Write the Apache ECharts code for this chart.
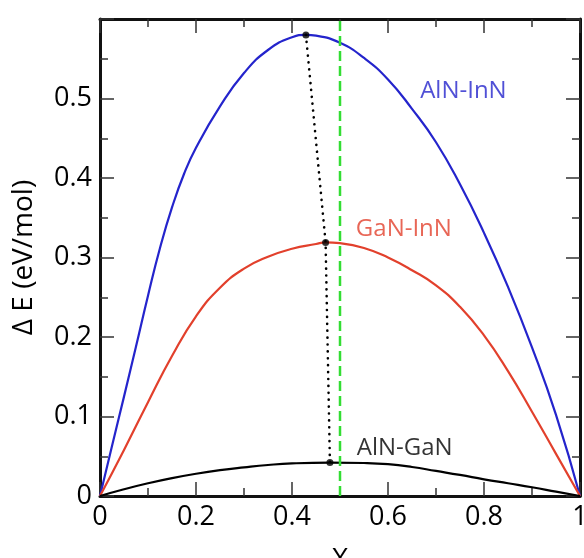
<!DOCTYPE html>
<html>
<head>
<meta charset="utf-8">
<script src="https://cdn.jsdelivr.net/npm/echarts@6/dist/echarts.min.js"></script>
<style>html,body{margin:0;padding:0;background:#fff;overflow:hidden}#c{width:584px;height:558px}</style>
</head>
<body>
<div id="c"></div>
<script>
// Data: [x, ΔE]
var alnInn = [[0,0],[0.025,0.063],[0.05,0.125],[0.075,0.188],[0.1,0.252],[0.125,0.312],[0.15,0.363],[0.175,0.405],[0.2,0.438],[0.25,0.490],[0.3,0.532],[0.35,0.561],[0.4,0.577],[0.429,0.580],[0.45,0.579],[0.5,0.570],[0.55,0.551],[0.6,0.524],[0.65,0.487],[0.7,0.445],[0.75,0.392],[0.8,0.331],[0.85,0.263],[0.9,0.187],[0.95,0.102],[1,0]];
var ganInn = [[0,0],[0.05,0.058],[0.1,0.118],[0.15,0.176],[0.2,0.226],[0.25,0.262],[0.3,0.286],[0.35,0.301],[0.4,0.311],[0.45,0.317],[0.470,0.319],[0.5,0.318],[0.55,0.312],[0.6,0.300],[0.65,0.284],[0.7,0.265],[0.75,0.238],[0.8,0.202],[0.85,0.157],[0.9,0.106],[0.95,0.053],[1,0]];
var alnGan = [[0,0],[0.05,0.0085],[0.1,0.016],[0.15,0.0225],[0.2,0.028],[0.25,0.0325],[0.3,0.036],[0.35,0.039],[0.4,0.041],[0.479,0.042],[0.55,0.0415],[0.6,0.040],[0.65,0.0365],[0.7,0.0315],[0.75,0.0265],[0.8,0.021],[0.85,0.016],[0.9,0.011],[0.95,0.0055],[1,0]];
var peaks = [[0.429,0.580],[0.470,0.319],[0.479,0.042]];
var midLine = [[0.5,0],[0.5,0.6]];
var curveNames = ['AlN-InN','GaN-InN','AlN-GaN'];
var curveLabelPos = [[0.667,0.509],[0.533,0.336],[0.535,0.060]];
var xTicks = [0,0.2,0.4,0.6,0.8,1];
var yTicks = [0,0.1,0.2,0.3,0.4,0.5];

var FONT = 'Open Sans';
var BLUE = '#2424cc', RED = '#e2402c', GREEN = '#33dd33', BLACK = '#000';
var colors = [BLUE, RED, BLACK];

var chart = echarts.init(document.getElementById('c'), null, {renderer:'canvas', width:584, height:558});
var axisCommon = {
  type:'value', min:0,
  axisLine:{show:true, onZero:false, lineStyle:{color:'#111', width:3}},
  axisTick:{show:true, inside:true, length:14, lineStyle:{color:'#333', width:1.5}},
  minorTick:{show:true, splitNumber:2, length:8, lineStyle:{color:'#333', width:1.5}},
  splitLine:{show:false}, minorSplitLine:{show:false}
};
function ax(extra){ return Object.assign({}, JSON.parse(JSON.stringify(axisCommon)), extra); }

chart.setOption({
  animation:false,
  backgroundColor:'#fff',
  grid:{left:100, right:4, top:19, bottom:62, containLabel:false, outerBoundsMode:'none'},
  xAxis:[
    ax({position:'bottom', max:1, interval:0.2,
        name:'X', nameLocation:'middle', nameGap:50,
        nameTextStyle:{fontFamily:FONT, fontSize:28, color:'#000'},
        axisLabel:{fontFamily:FONT, fontSize:27, color:'#000', margin:8,
          formatter:function(v){ var r=Math.round(v*10)/10; return xTicks.indexOf(r) >= 0 ? String(r) : ''; }}}),
    ax({position:'top', max:1, interval:0.2, axisLabel:{show:false}})
  ],
  yAxis:[
    ax({position:'left', max:0.6, interval:0.1,
        name:'\u0394 E (eV/mol)', nameLocation:'middle', nameGap:62,
        nameTextStyle:{fontFamily:FONT, fontSize:28, color:'#000'},
        axisLabel:{fontFamily:FONT, fontSize:27, color:'#000', margin:8,
          formatter:function(v){ var r=Math.round(v*10)/10; return yTicks.indexOf(r) >= 0 ? String(r) : ''; }}}),
    ax({position:'right', max:0.6, interval:0.1, axisLabel:{show:false}})
  ],
  series:[
    {type:'line', name:curveNames[0], data:alnInn, smooth:0.5, showSymbol:false, symbol:'none',
     lineStyle:{color:BLUE, width:2.2}, z:2},
    {type:'line', name:curveNames[1], data:ganInn, smooth:0.5, showSymbol:false, symbol:'none',
     lineStyle:{color:RED, width:2.2}, z:2},
    {type:'line', name:curveNames[2], data:alnGan, smooth:0.5, showSymbol:false, symbol:'none',
     lineStyle:{color:BLACK, width:2.2}, z:2},
    {type:'line', data:midLine, showSymbol:false, symbol:'none',
     lineStyle:{color:GREEN, width:2.5, type:[10,5]}, z:3},
    {type:'line', data:peaks, showSymbol:false, symbol:'none', smooth:false,
     lineStyle:{color:'#000', width:2.6, type:[0.1,6.8], cap:'round'}, z:4},
    {type:'scatter', data:peaks, symbol:'circle', symbolSize:7,
     itemStyle:{color:'#000'}, z:5},
    {type:'scatter', symbolSize:0, z:6,
     data:curveLabelPos.map(function(p,i){ return {value:p, name:curveNames[i],
       label:{show:true, position:'right', distance:0, formatter:curveNames[i],
              color:colors[i], fontFamily:FONT, fontSize:24}}; })}
  ]
});
</script>
</body>
</html>
